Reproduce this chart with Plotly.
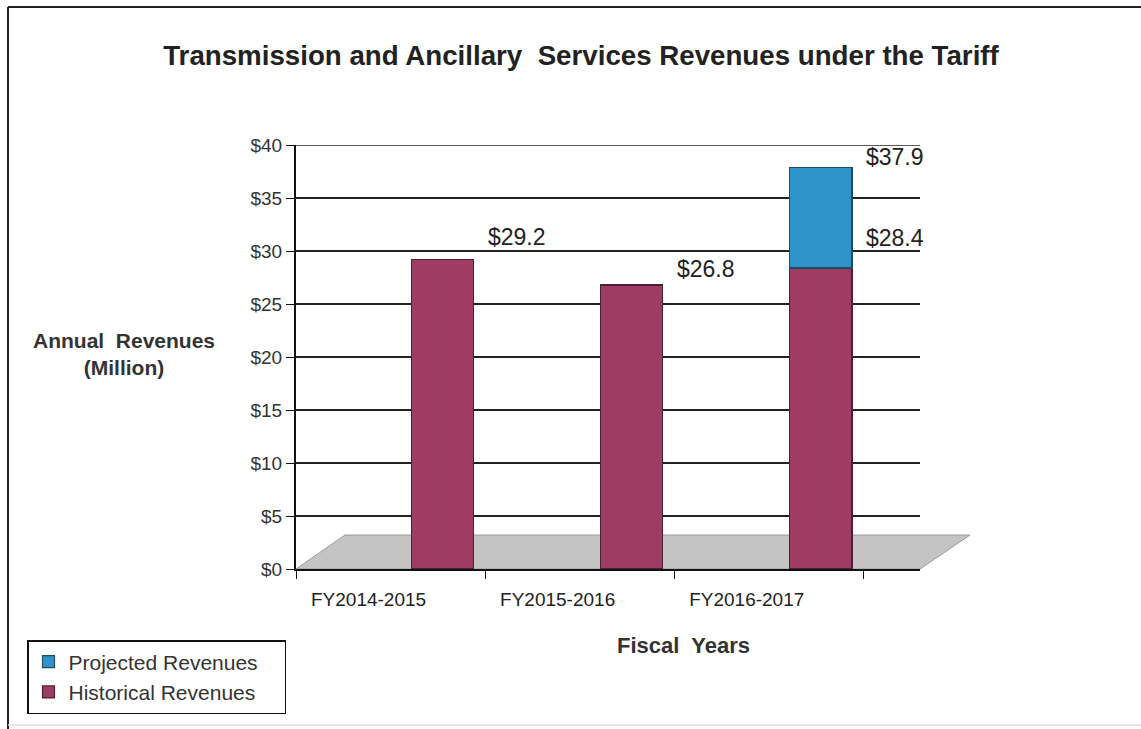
import plotly.graph_objects as go

# ---- data ----
fiscal_years = ["FY2014-2015", "FY2015-2016", "FY2016-2017"]
historical = [29.2, 26.8, 28.4]
projected_total = [None, None, 37.9]
y_ticks = [0, 5, 10, 15, 20, 25, 30, 35, 40]
y_tick_labels = ["$0", "$5", "$10", "$15", "$20", "$25", "$30", "$35", "$40"]

projected = [None if t is None else round(t - h, 1) for t, h in zip(projected_total, historical)]

W, H = 1141, 729
L, R, T, B = 296, 221, 145, 160
PW, PH = W - L - R, H - T - B


def px(X):
    return (X - L) / PW


def py(Y):
    return (H - Y - B) / PH


FONT = "Arial, Liberation Sans, sans-serif"
HIST_COL = "#9E3C63"
PROJ_COL = "#2E93C9"
NB = "\u00a0"

fig = go.Figure()
fig.add_trace(go.Bar(
    name="Historical Revenues" + NB * 4, x=fiscal_years, y=historical,
    marker=dict(color=HIST_COL, line=dict(color="#4a2035", width=1.2)),
    width=0.33, offset=0.11,
))
fig.add_trace(go.Bar(
    name="Projected Revenues", x=fiscal_years, y=projected,
    marker=dict(color=PROJ_COL, line=dict(color="#1f4a66", width=1.2)),
    width=0.33, offset=0.11,
))

hist_label_shift = [22, 16, 30]   # vertical pixel nudges for the value labels (style)
annotations = []
for cat, h, t, ys in zip(fiscal_years, historical, projected_total, hist_label_shift):
    annotations.append(dict(x=cat, y=h, xref="x", yref="y", text=f"${h}",
                            showarrow=False, xanchor="left", yanchor="middle",
                            xshift=95, yshift=ys,
                            font=dict(family=FONT, size=23, color="#222")))
    if t is not None:
        annotations.append(dict(x=cat, y=t, xref="x", yref="y", text=f"${t}",
                                showarrow=False, xanchor="left", yanchor="middle",
                                xshift=95, yshift=10,
                                font=dict(family=FONT, size=23, color="#222")))

annotations.append(dict(x=px(124), y=py(354), xref="paper", yref="paper",
                        text="<b>Annual  Revenues<br>(Million)</b>", showarrow=False,
                        align="center", xanchor="center", yanchor="middle",
                        font=dict(family=FONT, size=21, color="#333")))
annotations.append(dict(x=px(683), y=py(645), xref="paper", yref="paper",
                        text="<b>Fiscal  Years</b>", showarrow=False,
                        xanchor="center", yanchor="middle",
                        font=dict(family=FONT, size=22, color="#333")))

shapes = [
    # floor
    dict(type="path", xref="paper", yref="paper", layer="below",
         path=f"M {px(296)} {py(569)} L {px(920)} {py(569)} L {px(970)} {py(535)} L {px(345)} {py(535)} Z",
         fillcolor="#C4C4C4", line=dict(color="#9a9a9a", width=1)),
    # top gridline at the axis maximum
    dict(type="line", xref="paper", yref="y", x0=0, x1=1, y0=40, y1=40,
         line=dict(color="#222", width=1.5)),
    # frame: top and left edges, faint bottom
    dict(type="line", xref="paper", yref="paper", x0=px(8), x1=px(1141), y0=py(7), y1=py(7),
         line=dict(color="#222", width=2)),
    dict(type="line", xref="paper", yref="paper", x0=px(8), x1=px(8), y0=py(7), y1=py(729),
         line=dict(color="#222", width=2)),
    dict(type="line", xref="paper", yref="paper", x0=px(8), x1=px(1141), y0=py(725), y1=py(725),
         line=dict(color="#dddddd", width=1.5)),
]

fig.update_layout(
    width=W, height=H,
    margin=dict(l=L, r=R, t=T, b=B, autoexpand=False),
    barmode="stack",
    paper_bgcolor="white",
    plot_bgcolor="rgba(0,0,0,0)",
    title=dict(text="<b>Transmission and Ancillary  Services Revenues under the Tariff</b>",
               x=581 / W, y=1 - 55 / H, xanchor="center", yanchor="middle",
               font=dict(family=FONT, size=27.7, color="#222")),
    xaxis=dict(range=[-0.5, 2.8], showline=True, linecolor="#111", linewidth=2,
               ticks="outside", tickson="boundaries", ticklen=8, tickcolor="#111",
               tickfont=dict(family=FONT, size=19, color="#222"),
               ticklabelshift=-22, ticklabelstandoff=12,
               showgrid=False, zeroline=False),
    yaxis=dict(range=[0, 40], tickvals=y_ticks, ticktext=y_tick_labels,
               showline=True, linecolor="#111", linewidth=2,
               ticks="outside", ticklen=8, tickcolor="#111",
               tickfont=dict(family=FONT, size=19, color="#333"),
               showgrid=True, gridcolor="#222", gridwidth=1.5, zeroline=False),
    legend=dict(x=px(27), y=py(640), xanchor="left", yanchor="top",
                traceorder="reversed", bordercolor="#111", borderwidth=1.5,
                bgcolor="white", font=dict(family=FONT, size=21, color="#333"),
                itemwidth=30),
    annotations=annotations,
    shapes=shapes,
    showlegend=True,
)

fig.write_html("out.html", config={"displayModeBar": False},
               post_script="document.body.style.margin='0';document.body.style.overflow='hidden';")
